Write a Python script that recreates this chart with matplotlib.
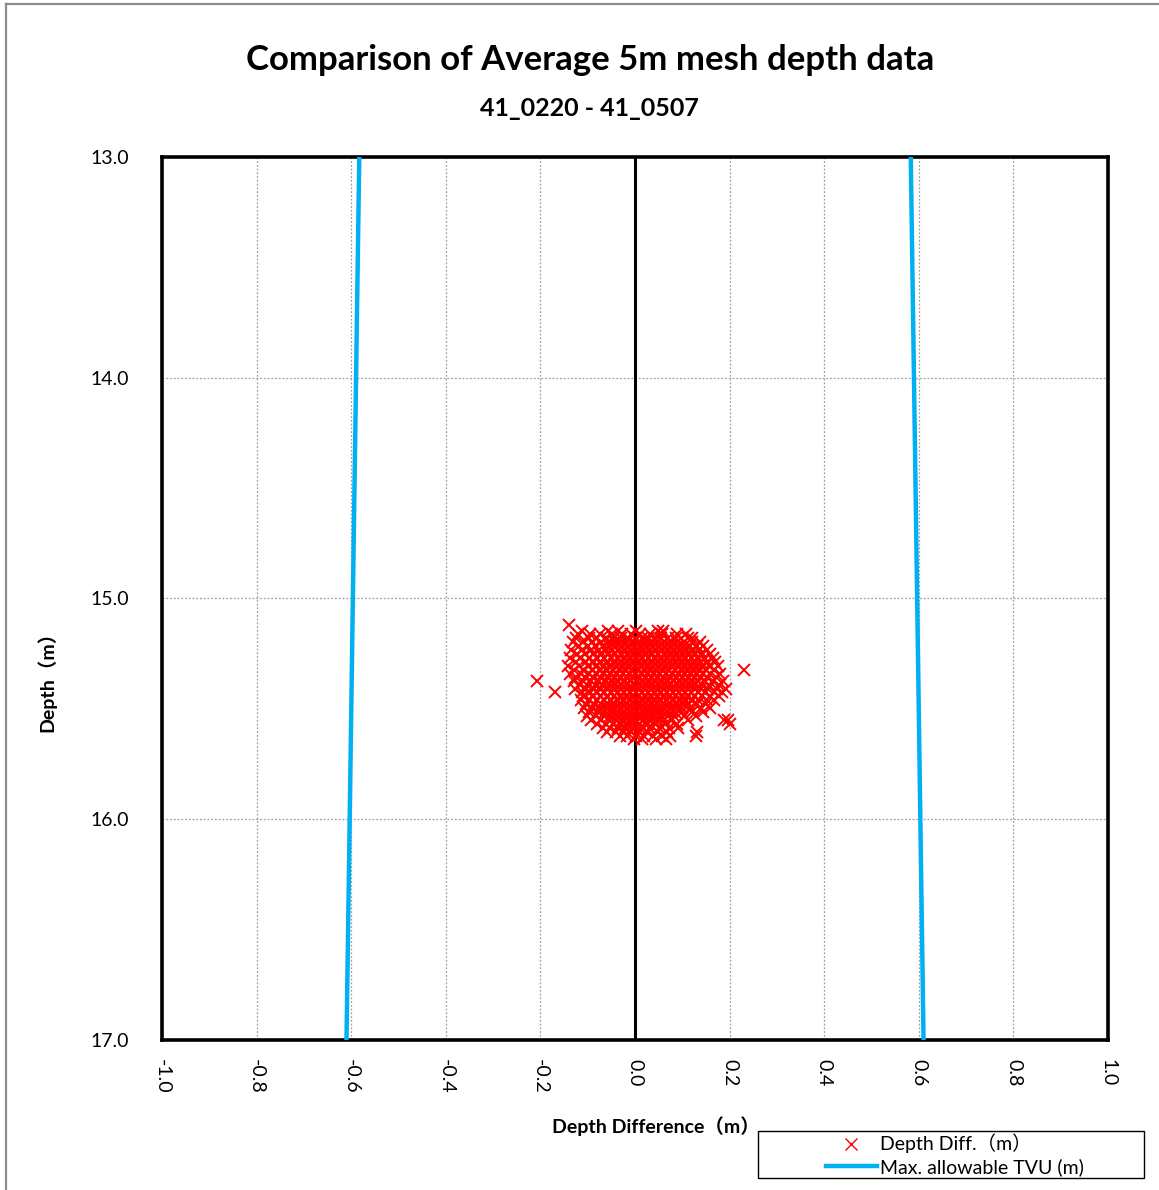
import numpy as np
import matplotlib.pyplot as plt
from matplotlib.lines import Line2D
from matplotlib.patches import Rectangle

plt.rcParams['font.family'] = ['Lato', 'Noto Sans CJK JP', 'DejaVu Sans']
plt.rcParams['axes.unicode_minus'] = True

TITLE = "Comparison of Average 5m mesh depth data"
SUBTITLE = "41_0220 - 41_0507"

# allowable TVU envelope (depth vs +/- tolerance)
tvu_depth = [13.0, 17.0]
tvu_limit = [0.583, 0.610]

# depth differences, grouped by mesh depth band
band_depth = [15.121, 15.148, 15.160, 15.178, 15.196, 15.214, 15.232, 15.250,
              15.268, 15.286, 15.304, 15.322, 15.340, 15.358, 15.372, 15.390,
              15.408, 15.424, 15.442, 15.460, 15.478, 15.496, 15.514, 15.532,
              15.550, 15.568, 15.586, 15.604, 15.622, 15.638]
band_diff = [
    [-0.140],
    [-0.112, -0.058, -0.036, 0.002, 0.048, 0.060],
    [-0.120, -0.096, -0.074, -0.049, -0.027, -0.008, 0.010, 0.031, 0.058, 0.089, 0.108],
    [-0.124, -0.097, -0.080, -0.061, -0.044, -0.030, -0.015, 0.000, 0.014, 0.027, 0.041,
     0.055, 0.070, 0.086, 0.112, 0.121],
    [-0.131, -0.109, -0.090, -0.072, -0.058, -0.043, -0.029, -0.016, -0.003, 0.010, 0.023,
     0.036, 0.049, 0.062, 0.075, 0.089, 0.104, 0.121, 0.138],
    [-0.118, -0.100, -0.084, -0.068, -0.054, -0.040, -0.027, -0.014, -0.001, 0.012, 0.025,
     0.038, 0.051, 0.064, 0.077, 0.090, 0.103, 0.117, 0.131, 0.143],
    [-0.135, -0.112, -0.094, -0.077, -0.062, -0.048, -0.035, -0.022, -0.009, 0.004, 0.017,
     0.030, 0.043, 0.056, 0.069, 0.082, 0.095, 0.108, 0.121, 0.135, 0.152],
    [-0.122, -0.106, -0.089, -0.073, -0.058, -0.044, -0.030, -0.017, -0.004, 0.009, 0.022,
     0.035, 0.048, 0.061, 0.074, 0.087, 0.100, 0.113, 0.126, 0.140, 0.158],
    [-0.138, -0.117, -0.098, -0.081, -0.066, -0.051, -0.037, -0.024, -0.011, 0.002, 0.015,
     0.028, 0.041, 0.054, 0.067, 0.080, 0.093, 0.106, 0.119, 0.132, 0.146, 0.165],
    [-0.124, -0.104, -0.087, -0.071, -0.057, -0.043, -0.030, -0.017, -0.004, 0.009, 0.022,
     0.035, 0.048, 0.061, 0.074, 0.087, 0.100, 0.113, 0.126, 0.139, 0.153, 0.170],
    [-0.141, -0.119, -0.100, -0.083, -0.068, -0.054, -0.040, -0.027, -0.014, -0.001, 0.012,
     0.025, 0.038, 0.051, 0.064, 0.077, 0.090, 0.103, 0.116, 0.129, 0.142, 0.157, 0.176],
    [-0.129, -0.109, -0.092, -0.076, -0.061, -0.047, -0.033, -0.020, -0.007, 0.006, 0.019,
     0.032, 0.045, 0.058, 0.071, 0.084, 0.097, 0.110, 0.123, 0.136, 0.150, 0.166, 0.230],
    [-0.137, -0.114, -0.097, -0.081, -0.066, -0.052, -0.038, -0.025, -0.012, 0.001, 0.014,
     0.027, 0.040, 0.053, 0.066, 0.079, 0.092, 0.105, 0.118, 0.131, 0.144, 0.159, 0.180],
    [-0.125, -0.106, -0.089, -0.073, -0.058, -0.044, -0.031, -0.018, -0.005, 0.008, 0.021,
     0.034, 0.047, 0.060, 0.073, 0.086, 0.099, 0.112, 0.125, 0.138, 0.152, 0.171],
    [-0.207, -0.128, -0.110, -0.093, -0.077, -0.062, -0.048, -0.035, -0.022, -0.009, 0.004,
     0.017, 0.030, 0.043, 0.056, 0.069, 0.082, 0.095, 0.108, 0.121, 0.134, 0.148, 0.164, 0.186],
    [-0.116, -0.101, -0.085, -0.070, -0.056, -0.042, -0.029, -0.016, -0.003, 0.010, 0.023,
     0.036, 0.049, 0.062, 0.075, 0.088, 0.101, 0.114, 0.127, 0.141, 0.157, 0.178],
    [-0.126, -0.104, -0.087, -0.071, -0.057, -0.043, -0.030, -0.017, -0.004, 0.009, 0.022,
     0.035, 0.048, 0.061, 0.074, 0.087, 0.100, 0.113, 0.126, 0.140, 0.155, 0.173, 0.192],
    [-0.169, -0.112, -0.096, -0.080, -0.065, -0.051, -0.037, -0.024, -0.011, 0.002, 0.015,
     0.028, 0.041, 0.054, 0.067, 0.080, 0.093, 0.106, 0.119, 0.133, 0.148, 0.166, 0.184],
    [-0.109, -0.090, -0.074, -0.059, -0.045, -0.031, -0.018, -0.005, 0.008, 0.021, 0.034,
     0.047, 0.060, 0.073, 0.086, 0.099, 0.112, 0.126, 0.141, 0.159, 0.178],
    [-0.114, -0.098, -0.081, -0.066, -0.052, -0.038, -0.025, -0.012, 0.001, 0.014, 0.027,
     0.040, 0.053, 0.066, 0.079, 0.092, 0.105, 0.119, 0.134, 0.152, 0.168],
    [-0.104, -0.087, -0.071, -0.057, -0.043, -0.029, -0.016, -0.003, 0.010, 0.023, 0.036,
     0.049, 0.062, 0.075, 0.088, 0.101, 0.115, 0.131, 0.150],
    [-0.108, -0.091, -0.074, -0.059, -0.045, -0.031, -0.018, -0.005, 0.008, 0.021, 0.034,
     0.047, 0.060, 0.073, 0.086, 0.100, 0.116, 0.139, 0.158],
    [-0.097, -0.079, -0.063, -0.049, -0.035, -0.021, -0.008, 0.005, 0.018, 0.031, 0.044,
     0.057, 0.070, 0.084, 0.099, 0.121, 0.144],
    [-0.101, -0.083, -0.066, -0.052, -0.038, -0.024, -0.010, 0.004, 0.017, 0.030, 0.043,
     0.056, 0.069, 0.083, 0.104, 0.128],
    [-0.093, -0.072, -0.055, -0.041, -0.027, -0.013, 0.001, 0.016, 0.030, 0.045, 0.061,
     0.078, 0.112, 0.189, 0.197],
    [-0.081, -0.061, -0.046, -0.032, -0.018, -0.004, 0.011, 0.027, 0.044, 0.063, 0.089, 0.200],
    [-0.068, -0.052, -0.036, -0.021, -0.006, 0.010, 0.029, 0.051, 0.072, 0.091],
    [-0.059, -0.040, -0.024, -0.008, 0.008, 0.026, 0.048, 0.067, 0.131],
    [-0.031, -0.017, 0.002, 0.019, 0.038, 0.058, 0.074, 0.128],
    [-0.003, 0.015, 0.044, 0.066],
]

x_ticks = [-1.0, -0.8, -0.6, -0.4, -0.2, 0.0, 0.2, 0.4, 0.6, 0.8, 1.0]
y_ticks = [13.0, 14.0, 15.0, 16.0, 17.0]

diff_x = np.concatenate([np.array(row) for row in band_diff])
diff_y = np.concatenate([np.full(len(row), d) for row, d in zip(band_diff, band_depth)])

fig = plt.figure(figsize=(11.59, 11.90), dpi=100)
ax = fig.add_axes([0.1398, 0.1261, 0.8162, 0.7420])

# grid + zero line
for xv in x_ticks[1:-1]:
    if xv == 0.0:
        continue
    ax.axvline(xv, color='#a0a0a0', linestyle=(0, (1.5, 1.5)), linewidth=0.9, zorder=1)
for yv in y_ticks[1:-1]:
    ax.axhline(yv, color='#a0a0a0', linestyle=(0, (1.5, 1.5)), linewidth=0.9, zorder=1)
ax.axvline(0.0, color='black', linewidth=2.2, zorder=2)

ax.plot(diff_x, diff_y, 'x', color='#ff0000', markersize=9, markeredgewidth=1.4,
        zorder=3)
ax.plot([-v for v in tvu_limit], tvu_depth, color='#00b0f0', linewidth=3.2, zorder=4)
ax.plot(tvu_limit, tvu_depth, color='#00b0f0', linewidth=3.2, zorder=4)

ax.set_xlim(-1.0, 1.0)
ax.set_ylim(17.0, 13.0)
ax.set_xticks(x_ticks)
ax.set_yticks(y_ticks)
ax.set_xticklabels([f"{v:.1f}" for v in x_ticks], rotation=-90, fontsize=14)
ax.set_yticklabels([f"{v:.1f}" for v in y_ticks], fontsize=14)
ax.tick_params(axis='both', length=0)
ax.tick_params(axis='x', pad=14)
ax.tick_params(axis='y', pad=24)
for sp in ax.spines.values():
    sp.set_linewidth(2.6)
    sp.set_color('black')

fig.text(0.509, 0.950, TITLE, ha='center', va='center', fontsize=25, fontweight='bold')
fig.text(0.509, 0.909, SUBTITLE, ha='center', va='center', fontsize=18, fontweight='bold')
fig.text(0.566, 0.054, "Depth Difference（m）", ha='center', va='center',
         fontsize=14, fontweight='bold')
fig.text(0.040, 0.431, "Depth（m）", ha='center', va='center', rotation=90,
         fontsize=14, fontweight='bold')

# legend box
fig.patches.append(Rectangle((758 / 1159, 1 - 1178 / 1190), 386 / 1159, 47 / 1190,
                             transform=fig.transFigure, fill=False,
                             edgecolor='black', linewidth=1.0))
handles = [Line2D([], [], linestyle='none', marker='x', color='#ff0000',
                  markersize=9, markeredgewidth=1.0),
           Line2D([], [], color='#00b0f0', linewidth=3.2)]
fig.legend(handles, ["Depth Diff.（m）", "Max. allowable TVU (m)"],
           loc='center left', bbox_to_anchor=(826 / 1159, 1 - 1155 / 1190), frameon=False,
           fontsize=14, handlelength=2.6, handletextpad=0.2, labelspacing=0.25,
           borderpad=0, borderaxespad=0)

# sheet border
fig.add_artist(Line2D([6 / 1159, 1.0], [1 - 4 / 1190, 1 - 4 / 1190],
                      transform=fig.transFigure, color='#8c8c8c', linewidth=1.6))
fig.add_artist(Line2D([6 / 1159, 6 / 1159], [0.0, 1 - 4 / 1190],
                      transform=fig.transFigure, color='#8c8c8c', linewidth=1.6))

fig.savefig("out.png", dpi=100)
